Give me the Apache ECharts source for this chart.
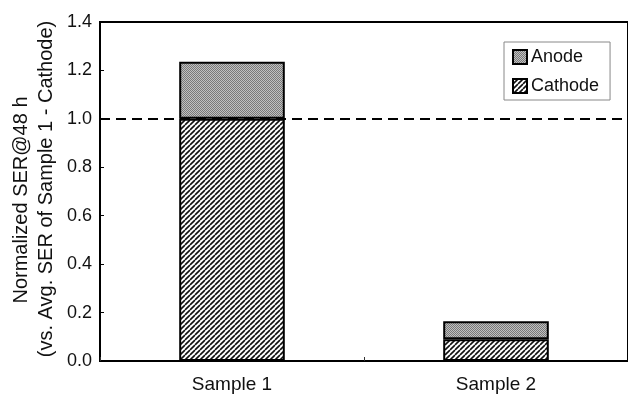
<!DOCTYPE html>
<html>
<head>
<meta charset="utf-8">
<script src="https://cdn.jsdelivr.net/npm/echarts@6/dist/echarts.min.js"></script>
<style>
  html, body { margin: 0; padding: 0; background: #fff; }
  #chart { width: 628px; height: 394px; }
</style>
</head>
<body>
<div id="chart"></div>
<script>
// Normalized SER at 48 h, stacked by electrode
const categories = ['Sample 1', 'Sample 2'];
const cathode = [1.0, 0.09];
const anode = [0.236, 0.074];
const referenceLevel = 1.0;
const yTicks = { min: 0, max: 1.4, interval: 0.2 };
const titleLines = ['Normalized SER@48 h', '(vs. Avg. SER of Sample 1 - Cathode)'];

// Fill textures: diagonal hatching and a grey stipple
function hatchPattern() {
  const c = document.createElement('canvas');
  c.width = 5; c.height = 5;
  const g = c.getContext('2d');
  g.fillStyle = '#fff';
  g.fillRect(0, 0, 5, 5);
  g.strokeStyle = '#111';
  g.lineWidth = 1.6;
  g.beginPath();
  for (let k = -5; k <= 10; k += 5) {
    g.moveTo(k, 5);
    g.lineTo(k + 5, 0);
  }
  g.stroke();
  return c;
}
function stipplePattern() {
  const c = document.createElement('canvas');
  c.width = 2; c.height = 2;
  const g = c.getContext('2d');
  g.fillStyle = '#c0c0c0';
  g.fillRect(0, 0, 2, 2);
  g.fillStyle = '#787878';
  g.fillRect(0, 0, 1, 1);
  g.fillRect(1, 1, 1, 1);
  return c;
}

const chart = echarts.init(document.getElementById('chart'), null, { renderer: 'canvas' });
const font = 'Arial, "Liberation Sans", sans-serif';

chart.setOption({
  animation: false,
  backgroundColor: '#fff',
  grid: {
    left: 100, top: 22, right: -2, bottom: 28,
    show: true, borderColor: '#000', borderWidth: 2, backgroundColor: 'transparent'
  },
  legend: {
    orient: 'vertical',
    left: 504, top: 42,
    padding: [6, 11, 5, 8],
    itemGap: 11,
    itemWidth: 14, itemHeight: 14,
    borderColor: '#888', borderWidth: 1,
    icon: 'rect',
    data: ['Anode', 'Cathode'],
    textStyle: { fontFamily: font, fontSize: 18, color: '#111', padding: [0, 0, 0, -1], lineHeight: 18 },
    itemStyle: { borderColor: '#000', borderWidth: 2 }
  },
  xAxis: {
    type: 'category',
    data: categories,
    axisLine: { lineStyle: { color: '#000', width: 2 } },
    axisTick: { show: true, inside: true, length: 4, lineStyle: { color: '#333', width: 1 } },
    axisLabel: { fontFamily: font, fontSize: 19, color: '#111', margin: 14 }
  },
  yAxis: {
    type: 'value',
    min: yTicks.min, max: yTicks.max, interval: yTicks.interval,
    splitLine: { show: false },
    axisLine: { show: true, lineStyle: { color: '#000', width: 2 } },
    axisTick: { show: true, inside: true, length: 4, lineStyle: { color: '#000', width: 1 } },
    axisLabel: {
      fontFamily: font, fontSize: 18, color: '#111', margin: 8,
      formatter: v => v.toFixed(1)
    }
  },
  graphic: [
    {
      type: 'text', x: 21, y: 200, rotation: Math.PI / 2,
      style: { text: titleLines[0], fontFamily: font, fontSize: 20, fill: '#111', align: 'center', verticalAlign: 'middle' }
    },
    {
      type: 'text', x: 46, y: 189, rotation: Math.PI / 2,
      style: { text: titleLines[1], fontFamily: font, fontSize: 20, fill: '#111', align: 'center', verticalAlign: 'middle' }
    }
  ],
  series: [
    {
      name: 'Cathode', type: 'bar', stack: 'ser', data: cathode, barWidth: '40%',
      itemStyle: { color: { image: hatchPattern(), repeat: 'repeat' }, borderColor: '#000', borderWidth: 2 },
      markLine: {
        silent: true, symbol: 'none', label: { show: false },
        lineStyle: { color: '#000', width: 2, type: [10, 6] },
        data: [{ yAxis: referenceLevel }]
      }
    },
    {
      name: 'Anode', type: 'bar', stack: 'ser', data: anode, barWidth: '40%',
      itemStyle: { color: { image: stipplePattern(), repeat: 'repeat' }, borderColor: '#000', borderWidth: 2 }
    }
  ]
});
</script>
</body>
</html>
